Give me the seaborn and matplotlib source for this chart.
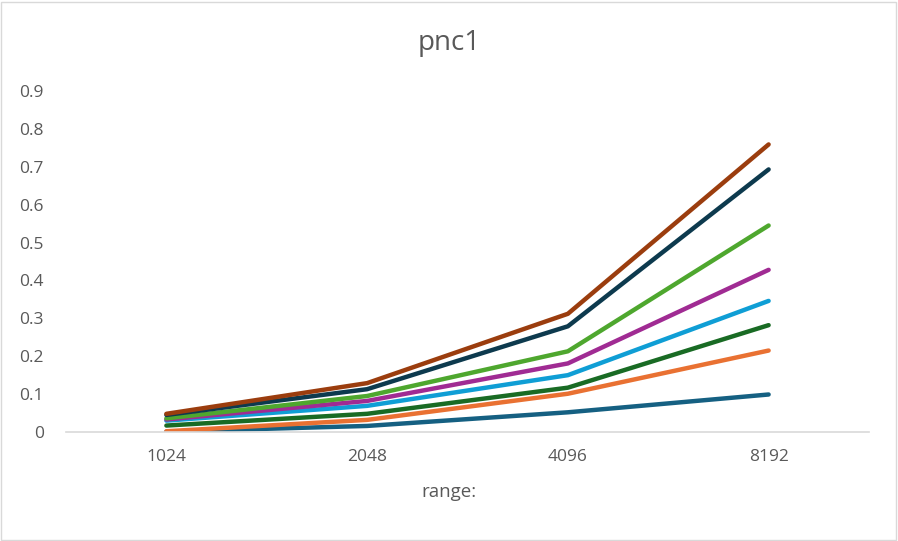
import pandas as pd
import matplotlib.pyplot as plt
import seaborn as sns
from matplotlib.patches import Rectangle

# values
ranges = ['1024', '2048', '4096', '8192']
s1 = [0.001, 0.016, 0.052, 0.099]
s2 = [0.002, 0.032, 0.101, 0.215]
s3 = [0.017, 0.048, 0.117, 0.282]
s4 = [0.030, 0.069, 0.150, 0.346]
s5 = [0.033, 0.082, 0.181, 0.428]
s6 = [0.036, 0.095, 0.213, 0.545]
s7 = [0.045, 0.113, 0.279, 0.693]
s8 = [0.048, 0.129, 0.312, 0.759]
series = {'s1': s1, 's2': s2, 's3': s3, 's4': s4, 's5': s5, 's6': s6, 's7': s7, 's8': s8}
colors = ['#156082', '#E97132', '#196B24', '#0F9ED5', '#A02B93', '#4EA72E', '#0D3A4E', '#9B3D0E']

rows = []
for name, vals in series.items():
    for i, v in enumerate(vals):
        rows.append({'pos': i, 'value': v, 'series': name})
df = pd.DataFrame(rows)

sns.set_style('white')
plt.rcParams['font.family'] = ['Open Sans', 'DejaVu Sans']

fig = plt.figure(figsize=(8.98, 5.41), dpi=100)
ax = fig.add_axes([66/898, 1-432/541, (869-66)/898, (432-91)/541])
sns.lineplot(data=df, x='pos', y='value', hue='series', palette=colors,
             linewidth=3.2, legend=False, ax=ax, solid_capstyle='round')

ax.set_xlim(-0.5, 3.5)
ax.set_ylim(0, 0.9)
ax.set_xticks(range(len(ranges)))
ax.set_xticklabels(ranges)
ax.set_yticks([i/10 for i in range(10)])
ax.set_yticklabels(['0'] + ['%.1f' % (i/10) for i in range(1, 10)])
ax.tick_params(axis='both', length=0, labelsize=12.5, labelcolor='#595959')
ax.tick_params(axis='y', pad=16)
ax.tick_params(axis='x', pad=12)
for side in ['top', 'right', 'left']:
    ax.spines[side].set_visible(False)
ax.spines['bottom'].set_color('#d9d9d9')
ax.spines['bottom'].set_linewidth(1.2)
ax.set_xlabel('')
ax.set_ylabel('')

fig.text(0.5, 1-43/541, 'pnc1', ha='center', va='center', fontsize=20, color='#595959')
fig.text(0.5, 1-492/541, 'range:', ha='center', va='center', fontsize=13.5, color='#595959')
fig.patches.append(Rectangle((0.001, 0.002), 0.997, 0.995, transform=fig.transFigure,
                             fill=False, edgecolor='#d9d9d9', linewidth=1))

plt.savefig('out.png', dpi=100)
